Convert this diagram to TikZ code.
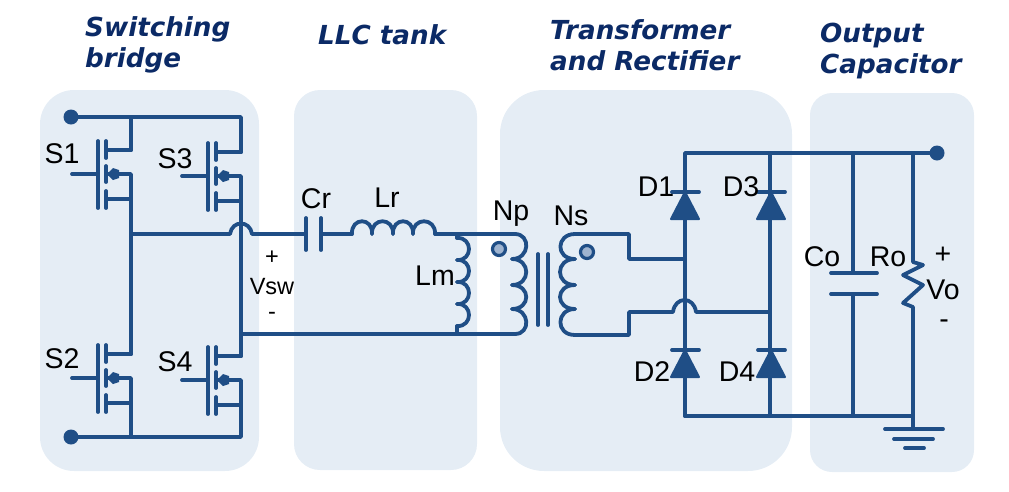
\documentclass[tikz,border=0pt]{standalone}
\usepackage{fontspec}
\setmainfont{Liberation Sans}
\newfontfamily\headfont{DejaVu Sans}
\usetikzlibrary{calc}

\definecolor{panelblue}{HTML}{E5EDF5}
\definecolor{wireblue}{HTML}{1F4E86}
\definecolor{headblue}{HTML}{0B2A66}
\definecolor{dotblue}{HTML}{9FB4D0}

\tikzset{
  wire/.style={draw=wireblue,line width=3.8pt,line cap=round,line join=round},
  panel/.style={fill=panelblue,rounded corners=#1},
  lbl/.style={font=\fontsize{28.5}{30}\selectfont,text=black,inner sep=0pt},
  smalllbl/.style={font=\fontsize{23.5}{26}\selectfont,text=black,inner sep=0pt},
  head/.style={font=\headfont\bfseries\itshape\fontsize{26.2}{31}\selectfont,text=headblue,
    align=left,anchor=west,inner sep=0pt},
  pics/nmos/.style={code={
    \draw[wire] (-26,0) -- (0,0);
    \draw[wire] (0,-33) -- (0,34);
    \draw[wire] (8,-33) -- (8,-16);
    \draw[wire] (8,-8) -- (8,8);
    \draw[wire] (8,17) -- (8,34);
    \draw[wire] (8,-24) -- (33,-24) coordinate (-d);
    \draw[wire] (8,0) -- (33,0) -- (33,25) coordinate (-s);
    \draw[wire] (8,25) -- (33,25);
    \fill[wireblue] (9,0) -- (15,-6) -- (21,-4) -- (21,4) -- (15,6) -- cycle;
  }},
  pics/diode/.style={code={
    \draw[wire] (-13,0) -- (14,0);
    \fill[wireblue,draw=wireblue,line width=2pt,line join=round] (0,0) -- (14,27) -- (-14,27) -- cycle;
  }}
}

\begin{document}
\begin{tikzpicture}[x=1pt,y=-1pt]
  \useasboundingbox (0,0) rectangle (1009,491);
  % panels
  \fill[panel=34pt] (40,90) rectangle (259,471);
  \fill[panel=26pt] (294,90) rectangle (477,470);
  \fill[panel=44pt] (500,90) rectangle (792,471);
  \fill[panel=22pt] (810,93) rectangle (974,472);

  % headings
  \node[head] (hbridge) at (85,44.5) {Switching\\bridge};
  \node[head] at (318,35) (htank) {LLC tank};
  \node[head] at (550,45) (hrect) {Transformer\\and Rectifier};
  \node[head] at (820,50.5) (hout) {Output\\Capacitor};

  % switching bridge
  \pic (S1) at (98,174) {nmos};
  \pic (S3) at (208,176) {nmos};
  \pic (S2) at (98,378) {nmos};
  \pic (S4) at (208,380) {nmos};
  \coordinate (topdot) at (71,117);
  \coordinate (botdot) at (71,437);
  \coordinate (midL) at (131,234);
  \coordinate (lowL) at (241,334);
  \fill[wireblue] (topdot) circle [radius=7.5];
  \fill[wireblue] (botdot) circle [radius=7.5];
  \draw[wire] (topdot) -- (241,117) -- (S3-d);
  \draw[wire] (S1-d) -- (131,117);
  \draw[wire] (S1-s) -- (S2-d);
  \draw[wire] (S3-s) -- (S4-d);
  \draw[wire] (botdot) -- (241,437) -- (S4-s);
  \draw[wire] (S2-s) -- (131,437);
  % mid line, hops over the S3/S4 leg
  \draw[wire] (midL) -- (230,234) .. controls (232,220) and (250,220) .. (252,234) -- (306,234) coordinate (CrL);
  \draw[wire] (lowL) -- (515,334);

  % resonant tank
  \draw[wire] (CrL) ++(0,-16) -- ++(0,32);
  \draw[wire] (321,218) -- (321,250);
  \draw[wire] (321,234) -- (352,234);
  \foreach \a/\b in {352/372,372/393,393/413,413/435}
    \draw[wire] (\a,234) .. controls (\a-1,217) and (\b+1,217) .. (\b,234);
  \draw[wire] (435,234) -- (515,234);
  \draw[wire] (457,234) -- (457,238);
  \foreach \a/\b in {238/260,260/282,282/304,304/326}
    \draw[wire] (457,\a) .. controls (473,\a-1) and (473,\b+1) .. (457,\b);
  \draw[wire] (457,326) -- (457,334);

  % transformer
  \draw[wire] (515,234) .. controls (531,234) and (530,259) .. (512,259);
  \draw[wire] (512,259) .. controls (531,259) and (531,285) .. (512,285);
  \draw[wire] (512,285) .. controls (531,285) and (531,309) .. (512,309);
  \draw[wire] (512,309) .. controls (530,309) and (531,334) .. (515,334);
  \draw[wire] (538,254) -- (538,325);
  \draw[wire] (548,254) -- (548,325);
  \draw[wire] (575,259) .. controls (555,259) and (556,234) .. (575,234) -- (629,234) -- (629,259) -- (685,259);
  \draw[wire] (575,259) .. controls (555,259) and (555,285) .. (575,285);
  \draw[wire] (575,285) .. controls (555,285) and (555,309) .. (575,309);
  \draw[wire] (575,309) .. controls (556,309) and (555,335) .. (575,335) -- (629,335) -- (629,312) -- (673,312)
    .. controls (675,296) and (694,296) .. (696,312) -- (770,312);
  \draw[wire,line width=3.2pt,fill=dotblue] (499,249) circle [radius=6.5];
  \draw[wire,line width=3.2pt,fill=dotblue] (587,252) circle [radius=6.5];

  % rectifier
  \coordinate (outdot) at (937,153);
  \fill[wireblue] (outdot) circle [radius=7.5];
  \draw[wire] (685,416) -- (685,153) -- (outdot);
  \draw[wire] (770,153) -- (770,416);
  \draw[wire] (685,416) -- (913,416);
  \pic (D1) at (685,192) {diode};
  \pic (D3) at (771,192) {diode};
  \pic (D2) at (685,350) {diode};
  \pic (D4) at (771,350) {diode};

  % output
  \draw[wire] (853,153) -- (853,273);
  \draw[wire] (831,273) -- (877,273);
  \draw[wire] (831,294) -- (877,294);
  \draw[wire] (853,294) -- (853,416);
  \draw[wire] (913,153) -- (913,262) -- (923,265) -- (903,275) -- (923,285) -- (903,303) -- (913,307) -- (913,429);
  \draw[wire] (885,429) -- (943,429);
  \draw[wire] (894,439) -- (933,439);
  \draw[wire] (905,448) -- (924,448);

  % labels
  \node[lbl] (lS1) at (62,154) {S1};
  \node[lbl] (lS3) at (175,159) {S3};
  \node[lbl] (lS2) at (62,359) {S2};
  \node[lbl] (lS4) at (175,362) {S4};
  \node[lbl] (lCr) at (316,199) {Cr};
  \node[lbl] (lLr) at (387,198) {Lr};
  \node[lbl] (lLm) at (435,276) {Lm};
  \node[lbl] (lNp) at (511,214) {Np};
  \node[lbl] (lNs) at (571,216) {Ns};
  \node[smalllbl] (vplus) at (272,258) {+};
  \node[smalllbl] (vsw) at (272,287) {Vsw};
  \node[smalllbl] (vminus) at (272,316) {-};
  \node[lbl] (lD1) at (656,187) {D1};
  \node[lbl] (lD3) at (741,187) {D3};
  \node[lbl] (lD2) at (652,372) {D2};
  \node[lbl] (lD4) at (737,372) {D4};
  \node[lbl] (lCo) at (822,257) {Co};
  \node[lbl] (lRo) at (888,257) {Ro};
  \node[lbl] (oplus) at (943,255) {+};
  \node[lbl] (lVo) at (943,290) {Vo};
  \node[lbl] (ominus) at (944,324) {-};
\end{tikzpicture}
\end{document}
